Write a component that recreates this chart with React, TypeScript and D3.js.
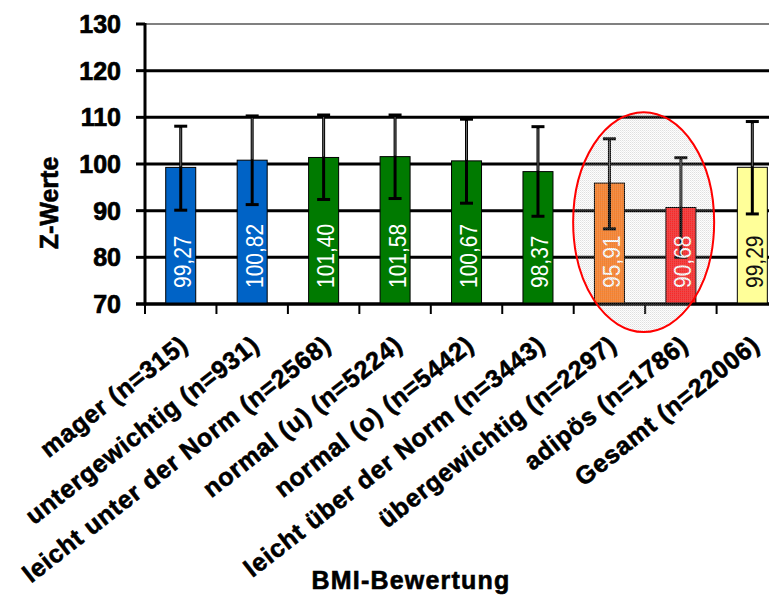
import React from "react";
import * as d3 from "d3";

const categories = [
  "mager (n=315)",
  "untergewichtig (n=931)",
  "leicht unter der Norm (n=2568)",
  "normal (u) (n=5224)",
  "normal (o) (n=5442)",
  "leicht über der Norm (n=3443)",
  "übergewichtig (n=2297)",
  "adipös (n=1786)",
  "Gesamt (n=22006)",
];
const means = [99.27, 100.82, 101.4, 101.58, 100.67, 98.37, 95.91, 90.68, 99.29];
const errUpper = [108.1, 110.3, 110.5, 110.5, 109.6, 108.0, 105.4, 101.35, 109.1];
const errLower = [90.1, 91.3, 92.4, 92.6, 91.6, 88.8, 86.1, 80.0, 89.3];
const valueLabels = ["99,27", "100,82", "101,40", "101,58", "100,67", "98,37", "95,91", "90,68", "99,29"];
const barColors = ["#0063C6", "#0063C6", "#007A00", "#007A00", "#007A00", "#007A00", "#FF7F24", "#FF2424", "#FFFF99"];
const labelColors = ["#fff", "#fff", "#fff", "#fff", "#fff", "#fff", "#fff", "#fff", "#111"];
const yTicks = [70, 80, 90, 100, 110, 120, 130];
const highlighted = [6, 7];

const W = 769;
const H = 600;
const plotLeft = 145;
const plotTop = 24;
const plotBottom = 304;
const step = 71.45;
const plotRight = plotLeft + step * categories.length;
const FONT = "'Liberation Sans', Arial, sans-serif";

export default function App() {
  const y = d3.scaleLinear().domain([70, 130]).range([plotBottom, plotTop]);
  const x = d3
    .scaleBand<string>()
    .domain(categories)
    .range([plotLeft, plotRight])
    .paddingInner(0.58)
    .paddingOuter(0.29);
  const bw = x.bandwidth();
  const cx = (c: string) => (x(c) as number) + bw / 2;

  const hx = highlighted.map((i) => cx(categories[i]));
  const ellCx = (hx[0] + hx[1]) / 2 - 1.5;
  const ellCy = (y(111.1) + y(64)) / 2;
  const ellRx = 70.5;
  const ellRy = (y(64) - y(111.1)) / 2;

  return (
    <svg
      width={W}
      height={H}
      style={{ position: "absolute", left: 0, top: 0, background: "#fff" }}
      fontFamily={FONT}
    >
      <defs>
        <pattern id="dots" width="2" height="2" patternUnits="userSpaceOnUse">
          <rect width="1" height="1" fill="rgba(150,150,150,0.3)" />
          <rect x="1" y="1" width="1" height="1" fill="rgba(185,185,185,0.25)" />
          <rect x="1" y="0" width="1" height="1" fill="rgba(225,225,225,0.15)" />
        </pattern>
      </defs>

      {/* gridlines */}
      {yTicks.map((t) => (
        <line
          key={"g" + t}
          x1={plotLeft}
          x2={plotRight}
          y1={y(t)}
          y2={y(t)}
          stroke={t === 130 ? "#808080" : "#000"}
          strokeWidth={t === 130 ? 2 : 3}
        />
      ))}

      {/* y ticks + labels */}
      {yTicks.map((t) => (
        <g key={"yt" + t}>
          <line x1={plotLeft - 9} x2={plotLeft} y1={y(t)} y2={y(t)} stroke="#000" strokeWidth={3} />
          <text
            x={121}
            y={y(t)}
            dy="0.36em"
            textAnchor="end"
            fontSize={25}
            fontWeight="bold"
            fill="#000"
            stroke="#000"
            strokeWidth={0.7}
          >
            {t}
          </text>
        </g>
      ))}

      {/* bars */}
      {categories.map((c, i) => (
        <rect
          key={"b" + c}
          x={x(c) as number}
          y={y(means[i])}
          width={bw}
          height={plotBottom - y(means[i])}
          fill={barColors[i]}
          stroke="#000"
          strokeWidth={1}
        />
      ))}

      {/* error bars */}
      {categories.map((c, i) => {
        const px = cx(c);
        return (
          <g key={"e" + c} stroke="#000" strokeWidth={3}>
            <line x1={px} x2={px} y1={y(errUpper[i])} y2={y(errLower[i])} />
            <line x1={px} x2={px} y1={y(errUpper[i]) + 2} y2={y(means[i]) - 1} stroke="#6a6a6a" strokeWidth={1} />
            <line x1={px - 6.5} x2={px + 6.5} y1={y(errUpper[i])} y2={y(errUpper[i])} />
            <line x1={px - 6.5} x2={px + 6.5} y1={y(errLower[i])} y2={y(errLower[i])} />
          </g>
        );
      })}

      {/* value labels */}
      {categories.map((c, i) => (
        <text
          key={"v" + c}
          transform={`translate(${cx(c) + 10.5},${plotBottom - 16}) rotate(-90) scale(1,1.15)`}
          textAnchor="start"
          fontSize={21}
          fill={labelColors[i]}
          fontFamily={"Arial, 'Liberation Sans', sans-serif"}
        >
          {valueLabels[i]}
        </text>
      ))}

      {/* axes */}
      <line x1={plotLeft} x2={plotLeft} y1={plotTop - 1} y2={plotBottom + 1.5} stroke="#000" strokeWidth={3} />
      <line x1={plotLeft - 9} x2={plotRight} y1={plotBottom} y2={plotBottom} stroke="#000" strokeWidth={3} />
      {d3.range(categories.length + 1).map((k) => (
        <line
          key={"xt" + k}
          x1={plotLeft + k * step}
          x2={plotLeft + k * step}
          y1={plotBottom}
          y2={plotBottom + 10}
          stroke="#000"
          strokeWidth={2}
        />
      ))}

      {/* highlight ellipse */}
      <ellipse
        cx={ellCx}
        cy={ellCy}
        rx={ellRx}
        ry={ellRy}
        fill="url(#dots)"
        stroke="#FF0000"
        strokeWidth={2}
      />

      {/* x category labels */}
      {categories.map((c) => (
        <text
          key={"xl" + c}
          transform={`translate(${cx(c) + 9},348) rotate(-38)`}
          textAnchor="end"
          fontSize={25}
          fontWeight="bold"
          letterSpacing={0.7}
          fill="#000"
          stroke="#000"
          strokeWidth={0.6}
        >
          {c}
        </text>
      ))}

      {/* axis titles */}
      <text
        transform={`translate(58,203) rotate(-90)`}
        textAnchor="middle"
        fontSize={25}
        fontWeight="bold"
        fill="#000"
        stroke="#000"
        strokeWidth={0.6}
      >
        Z-Werte
      </text>
      <text
        x={411}
        y={589}
        textAnchor="middle"
        fontSize={25}
        fontWeight="bold"
        letterSpacing={1.2}
        fill="#000"
        stroke="#000"
        strokeWidth={0.6}
      >
        BMI-Bewertung
      </text>
    </svg>
  );
}
